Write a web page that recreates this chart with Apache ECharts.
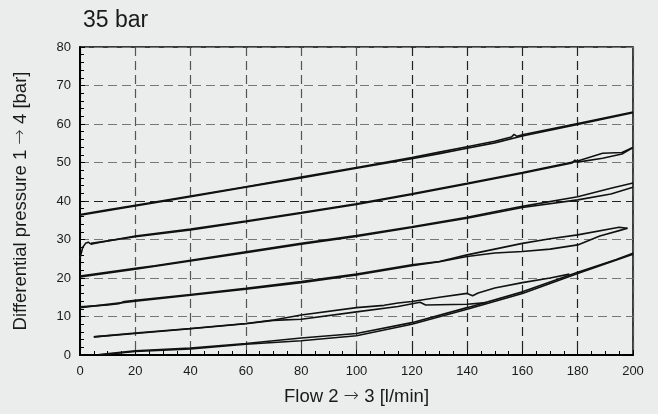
<!DOCTYPE html>
<html>
<head>
<meta charset="utf-8">
<script src="https://cdn.jsdelivr.net/npm/echarts@6/dist/echarts.min.js"></script>
<style>
html,body{margin:0;padding:0;background:#ebecec;}
#chart{width:658px;height:414px;}
</style>
</head>
<body>
<div id="chart"></div>
<script>
const titleText = "35 bar";
const xName = "Flow 2 {a|\u2192} 3 [l/min]";
const yName = "Differential pressure 1 {a|\u2192} 4 [bar]";
const xTicks = [0, 20, 40, 60, 80, 100, 120, 140, 160, 180, 200];
const yTicks = [0, 10, 20, 30, 40, 50, 60, 70, 80];

const curve1Up = [[0,36.5],[10,37.7],[20,38.9],[40,41.3],[60,43.7],[80,46.2],[100,48.7],[120,51.3],[130,52.7],[140,54.1],[150,55.5],[156,56.6],[157,57.3],[158,56.8],[160,57.2],[180,60.1],[200,63.1]];
const curve1Down = [[0,36.3],[20,38.7],[40,41.1],[60,43.6],[80,46.0],[100,48.5],[120,51.0],[130,52.3],[140,53.7],[150,55.1],[160,56.9],[180,59.9],[200,62.9]];
const curve2Up = [[0,25.2],[1,28.0],[2,29.0],[3,29.3],[4,28.8],[6,29.1],[20,30.9],[40,32.7],[60,34.8],[80,37.0],[100,39.3],[120,41.9],[140,44.6],[160,47.4],[180,50.4],[189,52.4],[196,52.6],[200,53.9]];
const curve2Down = [[4,29.0],[20,30.7],[40,32.5],[60,34.6],[80,36.8],[100,39.1],[120,41.7],[140,44.4],[160,47.2],[178,49.9],[179,50.6],[180,50.1],[189,51.1],[196,52.2],[200,53.9]];
const curve3Up = [[0,20.5],[20,22.5],[27,23.2],[40,24.6],[60,26.8],[80,29.0],[100,31.0],[120,33.3],[140,35.8],[154,37.8],[160,38.6],[180,41.1],[192,43.3],[200,44.7]];
const curve3Down = [[0,20.3],[20,22.3],[40,24.4],[60,26.6],[80,28.8],[100,30.8],[120,33.1],[140,35.5],[160,38.3],[180,40.3],[192,41.8],[200,43.6]];
const curve4Up = [[0,12.5],[10,13.0],[14,13.3],[16,13.9],[20,14.2],[40,15.7],[60,17.3],[80,19.1],[100,21.0],[120,23.4],[130,24.3],[140,26.0],[150,27.5],[160,29.0],[170,30.2],[180,31.2],[195,33.2],[198,32.9]];
const curve4Down = [[198,32.9],[195,32.3],[188,30.9],[180,28.6],[170,27.5],[160,26.9],[150,26.5],[140,25.6],[130,24.2],[120,23.2],[100,20.8],[80,18.8],[60,17.1],[40,15.5],[20,14.0],[0,12.3]];
const curve5Up = [[5,4.7],[20,5.7],[40,6.9],[60,8.2],[70,9.1],[80,10.4],[100,12.3],[110,12.9],[115,13.5],[120,13.9],[130,15.0],[140,16.0],[142,15.4],[144,16.1],[150,17.4],[160,18.8],[170,20.0],[177,21.0]];
const curve5Down = [[5,4.7],[20,5.6],[40,6.8],[60,8.1],[70,9.0],[80,9.3],[100,11.2],[115,12.6],[123,13.7],[125,13.0],[140,13.2],[147,13.6]];
const curve6Up = [[7,0.1],[20,1.1],[40,1.8],[60,3.0],[80,4.4],[100,5.6],[120,8.4],[140,12.3],[160,16.4],[180,21.5],[194,24.8],[200,26.4]];
const curve6Down = [[7,0.0],[20,0.9],[40,1.6],[60,2.8],[80,3.7],[100,5.0],[120,8.0],[140,11.9],[160,16.0],[180,21.2],[200,26.2]];

const curves = [curve1Up, curve1Down, curve2Up, curve2Down, curve3Up, curve3Down,
                curve4Up, curve4Down, curve5Up, curve5Down, curve6Up, curve6Down];

const chart = echarts.init(document.getElementById('chart'));
const textColor = '#1a1a1a';
const font = 'Liberation Sans, Arial, sans-serif';
const arrowRich = {a: {fontFamily: 'DejaVu Sans', fontWeight: 200, fontSize: 18.5, color: '#333'}};

chart.setOption({
  animation: false,
  backgroundColor: '#ebecec',
  title: {
    text: titleText, left: 78, top: 4,
    textStyle: {fontFamily: font, fontSize: 23, fontWeight: 'normal', color: textColor}
  },
  grid: {left: 80, right: 25, top: 47, bottom: 59, show: true, borderColor: '#000', borderWidth: 1.5, backgroundColor: 'transparent'},
  xAxis: {
    type: 'value', min: xTicks[0], max: xTicks[xTicks.length - 1], interval: xTicks[1] - xTicks[0],
    name: xName, nameLocation: 'middle', nameGap: 32,
    nameTextStyle: {fontFamily: font, fontSize: 18.5, color: textColor, rich: arrowRich},
    axisLine: {show: true, lineStyle: {color: '#000', width: 2}},
    axisTick: {show: true, inside: true, length: 5, lineStyle: {color: '#000'}},
    minorTick: {show: true, splitNumber: 4, length: 4, lineStyle: {color: '#000'}},
    axisLabel: {fontFamily: font, fontSize: 13, color: textColor, margin: 10},
    splitLine: {show: true, lineStyle: {type: [9, 5], width: 1.2,
      color: ['#555', '#555', '#555', '#555', '#555', '#555', '#222', '#222', '#222', '#222', '#555']}}
  },
  yAxis: {
    type: 'value', min: yTicks[0], max: yTicks[yTicks.length - 1], interval: yTicks[1] - yTicks[0],
    name: yName, nameLocation: 'middle', nameGap: 50, nameRotate: 90,
    nameTextStyle: {fontFamily: font, fontSize: 18.5, color: textColor, rich: arrowRich},
    axisLine: {show: true, lineStyle: {color: '#000', width: 2}},
    axisTick: {show: true, inside: true, length: 5, lineStyle: {color: '#000'}},
    minorTick: {show: true, splitNumber: 5, length: 4, lineStyle: {color: '#000'}},
    axisLabel: {fontFamily: font, fontSize: 13, color: textColor, margin: 9},
    splitLine: {show: true, lineStyle: {type: [9, 5], width: 1.2,
      color: ['#777', '#777', '#777', '#777', '#222', '#777', '#777', '#777', '#777']}}
  },
  series: curves.map(function (d) {
    return {
      type: 'line', data: d, showSymbol: false, silent: true, smooth: false,
      lineStyle: {color: '#111', width: 1.6}
    };
  })
});
</script>
</body>
</html>
